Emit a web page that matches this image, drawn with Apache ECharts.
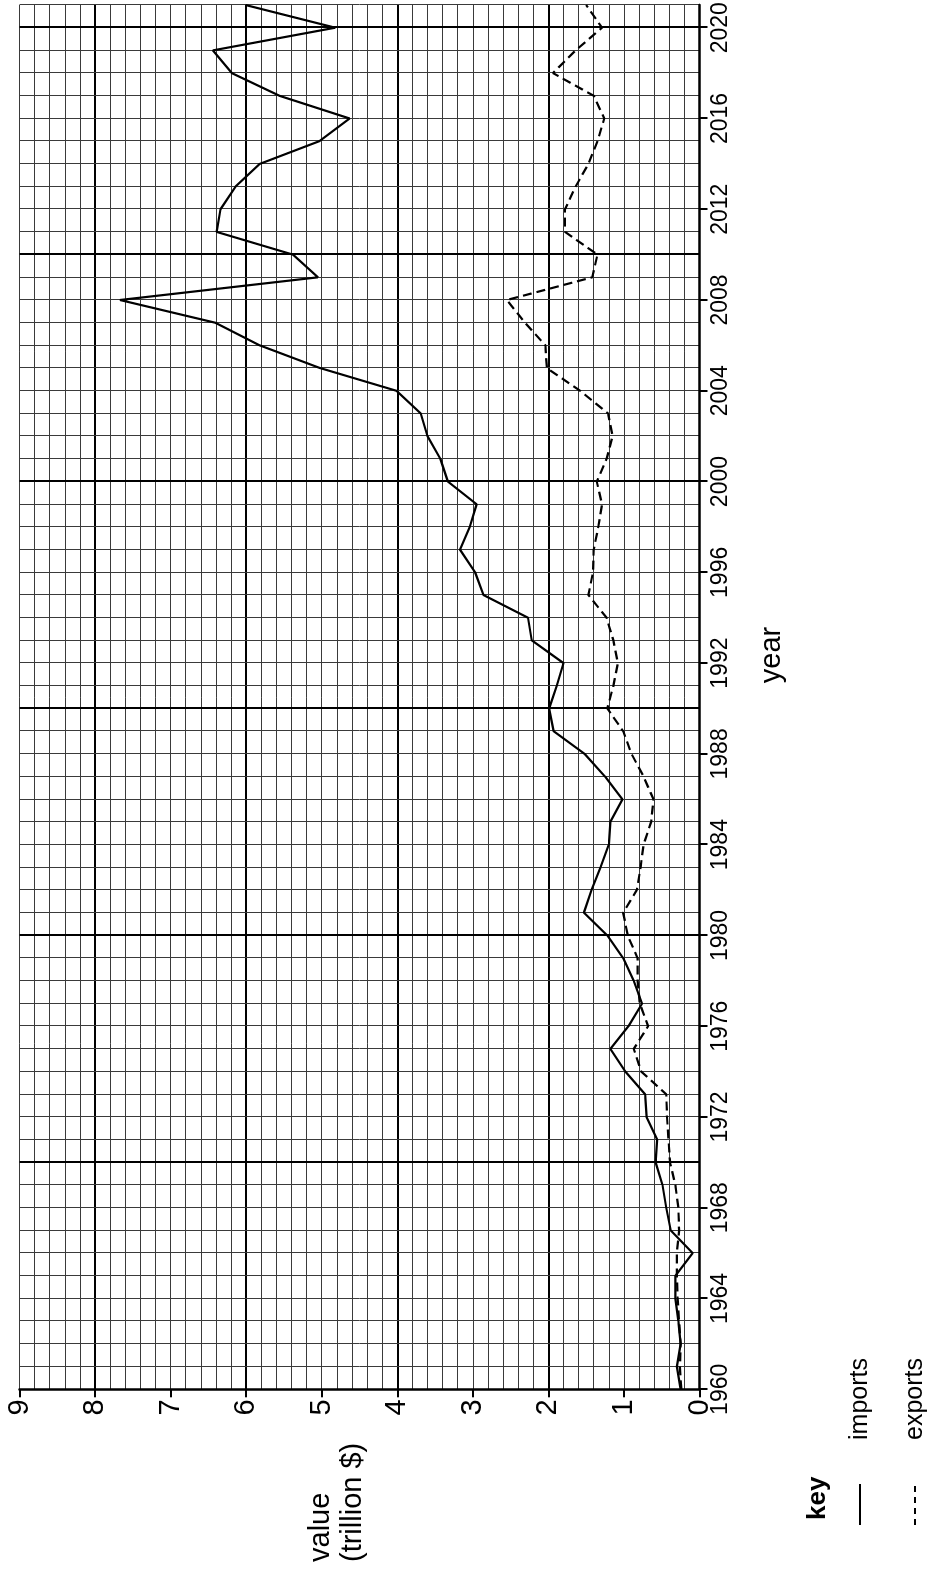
<!DOCTYPE html>
<html><head><meta charset="utf-8">
<script src="https://cdn.jsdelivr.net/npm/echarts@6/dist/echarts.min.js"></script>
<style>
html,body{margin:0;padding:0;background:#fff;overflow:hidden;width:933px;height:1570px;}
#wrap{position:absolute;left:0;top:0;width:1570px;height:933px;transform-origin:0 0;transform:translateY(1570px) rotate(-90deg);}
#chart{width:1570px;height:933px;background:#fff;}
</style></head><body>
<div id="wrap"><div id="chart"></div></div>
<script>
const years = [1960,1961,1962,1963,1964,1965,1966,1967,1968,1969,
  1970,1971,1972,1973,1974,1975,1976,1977,1978,1979,
  1980,1981,1982,1983,1984,1985,1986,1987,1988,1989,
  1990,1991,1992,1993,1994,1995,1996,1997,1998,1999,
  2000,2001,2002,2003,2004,2005,2006,2007,2008,2009,
  2010,2011,2012,2013,2014,2015,2016,2017,2018,2019,
  2020,2021];
const imports = [0.25,0.30,0.25,0.28,0.32,0.32,0.09,0.38,0.44,0.49,
  0.58,0.56,0.70,0.72,0.98,1.18,0.94,0.76,0.87,1.01,
  1.22,1.53,1.43,1.31,1.20,1.18,1.02,1.25,1.52,1.93,
  1.99,1.89,1.80,2.22,2.27,2.86,2.97,3.17,3.04,2.95,
  3.33,3.43,3.60,3.69,4.01,5.02,5.82,6.41,7.67,5.05,
  5.38,6.39,6.34,6.14,5.82,5.03,4.63,5.56,6.19,6.44,
  4.82,6.01];
const exportsData = [0.24,0.26,0.25,0.27,0.29,0.30,0.30,0.27,0.28,0.32,
  0.39,0.41,0.43,0.44,0.77,0.87,0.68,0.79,0.82,0.82,
  0.95,1.01,0.83,0.78,0.74,0.64,0.61,0.74,0.90,1.01,
  1.22,1.14,1.08,1.14,1.23,1.47,1.41,1.40,1.34,1.29,
  1.36,1.23,1.15,1.21,1.58,2.02,2.04,2.31,2.55,1.42,
  1.35,1.78,1.78,1.64,1.47,1.35,1.26,1.40,1.94,1.64,
  1.29,1.50];
const yearTicks = [1960,1964,1968,1972,1976,1980,1984,1988,1992,1996,2000,2004,2008,2012,2016,2020];
const valueTicks = [0,1,2,3,4,5,6,7,8,9];
const seriesNames = ['imports','exports'];
const axisTitles = {x:'year', y:'value\n(trillion $)', key:'key'};

const FONT = "'Liberation Sans', Arial, Helvetica, sans-serif";
const chart = echarts.init(document.getElementById('chart'), null, {renderer:'canvas'});

const yMin = 0, yMax = 9, xMin = 1960, xMax = 2021;
const hidden = {axisLine:{show:false}, axisTick:{show:false}, axisLabel:{show:false}};

chart.setOption({
  animation:false,
  backgroundColor:'#fff',
  grid:{left:180.7, right:5, top:19.5, bottom:233.5, outerBoundsMode:'none'},
  xAxis:[
    {type:'value', min:xMin, max:xMax, interval:4, position:'bottom',
     axisLine:{show:true, onZero:false, lineStyle:{color:'#000', width:2.5}},
     axisTick:{show:true, length:8, customValues:yearTicks, lineStyle:{color:'#000', width:2}},
     axisLabel:{show:true, customValues:yearTicks, color:'#000', fontSize:23, fontFamily:FONT, margin:10,
       formatter:v=>String(v)},
     splitLine:{show:false}},
    Object.assign({type:'value', min:xMin, max:xMax, interval:1,
     splitLine:{show:true, lineStyle:{color:'#3a3a3a', width:1}}}, hidden),
    Object.assign({type:'value', min:xMin, max:xMax, interval:10,
     splitLine:{show:true, showMinLine:false, showMaxLine:false, lineStyle:{color:'#000', width:2}}}, hidden)
  ],
  yAxis:[
    {type:'value', min:yMin, max:yMax, interval:1, position:'left',
     axisLine:{show:true, onZero:false, lineStyle:{color:'#000', width:2.5}},
     axisTick:{show:true, length:8, customValues:valueTicks, lineStyle:{color:'#000', width:2}},
     axisLabel:{show:true, customValues:valueTicks, color:'#000', fontSize:29, fontFamily:FONT, margin:10},
     splitLine:{show:false}},
    Object.assign({type:'value', min:yMin, max:yMax, interval:0.2,
     splitLine:{show:true, lineStyle:{color:'#3a3a3a', width:1}}}, hidden),
    Object.assign({type:'value', min:yMin, max:yMax, interval:2,
     splitLine:{show:true, showMinLine:false, showMaxLine:false, lineStyle:{color:'#000', width:2}}}, hidden)
  ],
  series:[
    {name:seriesNames[0], type:'line', xAxisIndex:0, yAxisIndex:0, showSymbol:false, z:5,
     data:years.map((y,i)=>[y, imports[i]]),
     lineStyle:{color:'#000', width:2.2, type:'solid'}},
    {name:seriesNames[1], type:'line', xAxisIndex:0, yAxisIndex:0, showSymbol:false, z:5,
     data:years.map((y,i)=>[y, exportsData[i]]),
     lineStyle:{color:'#000', width:2.2, type:[9,5]}}
  ],
  graphic:[
    {type:'text', x:8, y:337, style:{text:axisTitles.y, font:'29px '+FONT, fill:'#000', lineHeight:32, align:'left', verticalAlign:'middle'}},
    {type:'text', x:915, y:772, style:{text:axisTitles.x, font:'29px '+FONT, fill:'#000', align:'center', verticalAlign:'middle'}},
    {type:'text', x:50, y:818, style:{text:axisTitles.key, font:'bold 26px '+FONT, fill:'#000', align:'left', verticalAlign:'middle'}},
    {type:'line', shape:{x1:45, y1:860, x2:86, y2:860}, style:{stroke:'#000', lineWidth:2}},
    {type:'text', x:130, y:860, style:{text:seriesNames[0], font:'25px '+FONT, fill:'#000', align:'left', verticalAlign:'middle'}},
    {type:'line', shape:{x1:45, y1:915, x2:86, y2:915}, style:{stroke:'#000', lineWidth:2, lineDash:[6,5]}},
    {type:'text', x:130, y:915, style:{text:seriesNames[1], font:'25px '+FONT, fill:'#000', align:'left', verticalAlign:'middle'}}
  ]
});
</script>
</body></html>
